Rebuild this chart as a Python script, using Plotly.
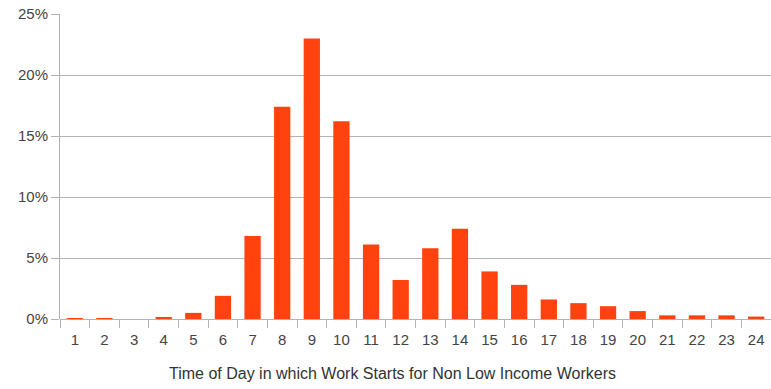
import plotly.graph_objects as go

# Start hour categories and share of non low income workers (%)
hours = [str(h) for h in range(1, 25)]
share_pct = [0.05, 0.05, 0.0, 0.1, 0.5, 1.9, 6.8, 17.4, 23.0, 16.2, 6.1, 3.2,
             5.8, 7.4, 3.9, 2.8, 1.6, 1.3, 1.05, 0.65, 0.3, 0.3, 0.3, 0.2]
y_ticks = [0, 5, 10, 15, 20, 25]
y_tick_labels = [f"{v}%" for v in y_ticks]
x_title = "Time of Day in which Work Starts for Non Low Income Workers"

bar_color = "#FF420E"
grid_color = "#b3b3b3"
font_family = "Liberation Sans, Arial, sans-serif"

fig = go.Figure(
    go.Bar(
        x=hours,
        y=share_pct,
        marker=dict(color=bar_color, line=dict(width=0)),
        width=0.55,
    )
)

fig.update_layout(
    width=771,
    height=389,
    margin=dict(l=60, r=0, t=14, b=70),
    paper_bgcolor="white",
    plot_bgcolor="white",
    showlegend=False,
    font=dict(family=font_family, color="#444444"),
)

# Axis title placed as an annotation, centred on the page width
fig.add_annotation(
    text=x_title,
    xref="paper",
    yref="paper",
    x=0.467,
    y=0,
    yshift=-54,
    xanchor="center",
    yanchor="middle",
    showarrow=False,
    font=dict(size=16, color="#333333", family=font_family),
)

fig.update_xaxes(
    type="category",
    range=[-0.5, 23.5],
    tickson="boundaries",
    ticks="outside",
    ticklen=8,
    tickcolor=grid_color,
    tickfont=dict(size=15, color="#444444"),
    ticklabelstandoff=10,
    showline=False,
    showgrid=False,
)

fig.update_yaxes(
    range=[0, 25],
    tickvals=y_ticks,
    ticktext=y_tick_labels,
    ticks="outside",
    ticklen=8,
    tickcolor=grid_color,
    tickfont=dict(size=15, color="#444444"),
    showline=True,
    linecolor=grid_color,
    linewidth=1,
    showgrid=True,
    gridcolor=grid_color,
    gridwidth=1,
    zeroline=True,
    zerolinecolor=grid_color,
    zerolinewidth=1,
)

fig.write_html("out.html")
